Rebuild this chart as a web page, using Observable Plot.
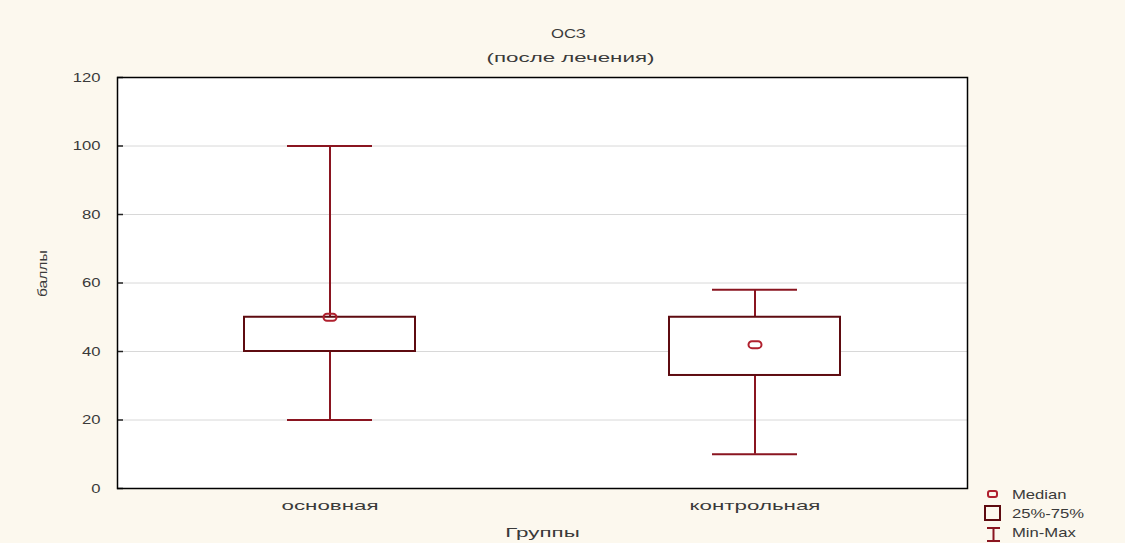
<!DOCTYPE html>
<html><head><meta charset="utf-8">
<script src="https://cdn.jsdelivr.net/npm/d3@7"></script>
<script src="https://cdn.jsdelivr.net/npm/@observablehq/plot@0.6"></script>
<style>
body{margin:0;background:#fcf8ee;font-family:"Liberation Sans",Arial,sans-serif;}
svg{display:block;}
</style></head>
<body><div id="chart"></div>
<script>
const groups = ["основная", "контрольная"];
const minVals = [20, 10];
const q1Vals = [40, 33];
const medianVals = [50, 42];
const q3Vals = [50, 50];
const maxVals = [100, 58];
const yTicks = [0, 20, 40, 60, 80, 100, 120];
const titleText = "ОСЗ";
const subtitleText = "(после лечения)";
const xLabel = "Группы";
const yLabel = "баллы";
const legendLabels = ["Median", "25%-75%", "Min-Max"];

const data = groups.map((g, i) => ({group: g, min: minVals[i], q1: q1Vals[i], median: medianVals[i], q3: q3Vals[i], max: maxVals[i]}));

const ellipseSymbol = {
  draw(ctx) {
    const rx = 6.5, ry = 3.5;
    ctx.moveTo(-rx + ry, -ry);
    ctx.lineTo(rx - ry, -ry);
    ctx.arc(rx - ry, 0, ry, -Math.PI / 2, Math.PI / 2);
    ctx.lineTo(-rx + ry, ry);
    ctx.arc(-rx + ry, 0, ry, Math.PI / 2, 3 * Math.PI / 2);
    ctx.closePath();
  }
};

const boxColor = "#5e0b10";
const whiskerColor = "#8a1520";
const medianColor = "#b0202e";
const textColor = "#3a3a3a";

const chart = Plot.plot({
  width: 1125,
  height: 543,
  marginLeft: 117,
  marginRight: 158,
  marginTop: 77,
  marginBottom: 55,
  style: {background: "transparent", fontFamily: "'Liberation Sans', Arial, sans-serif", fontSize: "13px", color: textColor},
  x: {domain: groups, padding: 0, label: null},
  y: {domain: [0, 120], label: null},
  marks: [
    Plot.frame({fill: "white", stroke: "none"}),
    Plot.gridY(yTicks, {stroke: "#d8d8d8", strokeOpacity: 1}),
    Plot.tickY(yTicks, {y: d => d, stroke: "#222", strokeWidth: 1.5, insetRight: 844}),
    Plot.axisY(yTicks, {tickSize: 0, tickPadding: 17, fontSize: 13}),
    Plot.axisX({tickSize: 0, tickPadding: 12, fontSize: 13}),
    Plot.ruleX(data, {x: "group", y1: "min", y2: "max", stroke: whiskerColor, strokeWidth: 2}),
    Plot.tickY(data, {x: "group", y: "min", stroke: whiskerColor, strokeWidth: 2, insetLeft: 170, insetRight: 170}),
    Plot.tickY(data, {x: "group", y: "max", stroke: whiskerColor, strokeWidth: 2, insetLeft: 170, insetRight: 170}),
    Plot.barY(data, {x: "group", y1: "q1", y2: "q3", fill: "white", stroke: boxColor, strokeWidth: 2, insetLeft: 127, insetRight: 127}),
    Plot.dot(data, {x: "group", y: "median", symbol: ellipseSymbol, stroke: medianColor, strokeWidth: 2, fill: "none"}),
    Plot.frame({stroke: "#000", strokeWidth: 1.5}),
    Plot.text([titleText], {frameAnchor: "top", dx: 26, dy: -49, fill: textColor, fontSize: 13}),
    Plot.text([subtitleText], {frameAnchor: "top", dx: 28, dy: -25, fill: textColor, fontSize: 13}),
    Plot.text([xLabel], {frameAnchor: "bottom", dy: 48, fill: textColor, fontSize: 13}),
    Plot.text([yLabel], {frameAnchor: "left", dx: -75, dy: 14, rotate: -90, fill: textColor, fontSize: 13})
  ]
});
document.getElementById("chart").appendChild(chart);

// legend (non-data glyphs)
const svg = d3.select(chart);
const lg = svg.append("g").attr("font-family", "'Liberation Sans', Arial, sans-serif").attr("font-size", 13).attr("fill", textColor).attr("text-anchor", "start");
lg.append("rect").attr("x", 988).attr("y", 491).attr("width", 9).attr("height", 6).attr("rx", 2).attr("fill", "none").attr("stroke", medianColor).attr("stroke-width", 2);
lg.append("rect").attr("x", 985).attr("y", 506).attr("width", 15).attr("height", 14).attr("fill", "none").attr("stroke", boxColor).attr("stroke-width", 2);
lg.append("path").attr("d", "M987,528H1000M993.5,528V541M987,541H1000").attr("fill", "none").attr("stroke", whiskerColor).attr("stroke-width", 2);
[499, 518, 537].forEach((y, i) => lg.append("text").attr("transform", `translate(1012,${y})`).text(legendLabels[i]));

// widen glyphs along the reading direction like the reference's wide raster font
svg.selectAll("text").each(function () {
  const tr = this.getAttribute("transform") || "";
  if (tr.includes("rotate")) {
    this.setAttribute("transform", tr + " scale(1.2,1)");
    return;
  }
  const s = /[а-яё]/i.test(this.textContent) && !/^[А-ЯЁ]+$/.test(this.textContent) ? 1.72 : 1.28;
  this.setAttribute("transform", (tr ? tr + " " : "") + `scale(${s},1)`);
});
</script>
</body></html>
